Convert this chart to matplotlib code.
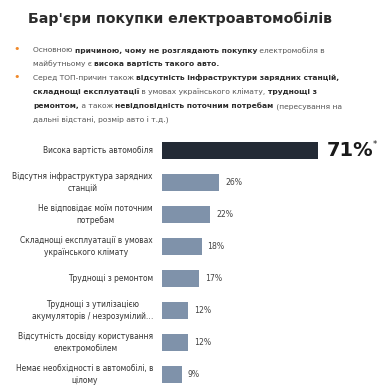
import matplotlib
matplotlib.use("Agg")
import matplotlib.pyplot as plt

W, H = 382, 386
DPI = 100

title = "Бар'єри покупки електроавтомобілів"

bullet_lines = [
    [("Основною ", False), ("причиною, чому не розглядають покупку", True), (" електромобіля в", False)],
    [("майбутньому є ", False), ("висока вартість такого авто.", True)],
    [("Серед ТОП-причин також ", False), ("відсутність інфраструктури зарядних станцій,", True)],
    [("складнощі експлуатації", True), (" в умовах українського клімату, ", False), ("труднощі з", True)],
    [("ремонтом,", True), (" а також ", False), ("невідповідність поточним потребам", True), (" (пересування на", False)],
    [("дальні відстані, розмір авто і т.д.)", False)],
]
bullet_starts = [0, 2]

categories = [
    "Висока вартість автомобіля",
    "Відсутня інфраструктура зарядних\nстанцій",
    "Не відповідає моїм поточним\nпотребам",
    "Складнощі експлуатації в умовах\nукраїнського клімату",
    "Труднощі з ремонтом",
    "Труднощі з утилізацією\nакумуляторів / незрозумілий…",
    "Відсутність досвіду користування\nелектромобілем",
    "Немає необхідності в автомобілі, в\nцілому",
]
values = [71, 26, 22, 18, 17, 12, 12, 9]
value_labels = ["71%", "26%", "22%", "18%", "17%", "12%", "12%", "9%"]

DARK = "#232a35"
GRAY = "#7f92aa"
TXT = "#333333"
ORANGE = "#f0892a"
FONT = "DejaVu Sans"

fig = plt.figure(figsize=(W / DPI, H / DPI), dpi=DPI)
fig.patch.set_facecolor("white")

def fx(px):
    return px / W

def fy(py):
    return 1 - py / H

fig.text(fx(28), fy(23.5), title, fontsize=10.2, fontweight="bold", color="#2b2b2b",
         family=FONT, va="baseline", ha="left")

renderer = fig.canvas.get_renderer()
baselines = [52.5, 66, 80, 94, 108, 122]
for i, line in enumerate(bullet_lines):
    x = 33.0
    for txt, bold in line:
        t = fig.text(fx(x), fy(baselines[i]), txt, fontsize=5.4,
                     fontweight="bold" if bold else "normal",
                     color="#2b2b2b" if bold else "#555555",
                     family=FONT, va="baseline", ha="left")
        bb = t.get_window_extent(renderer)
        x += bb.width
    if i in bullet_starts:
        fig.text(fx(17), fy(baselines[i]), "•", fontsize=8, color=ORANGE,
                 family=FONT, va="baseline", ha="center")

# bar axes: x=0 at px 162
x0, x1 = 162, 380
scale = 2.2
xmax = (x1 - x0) / scale
top_px, bot_px = 134.5, 386
ax = fig.add_axes([fx(x0), fy(bot_px), (x1 - x0) / W, (bot_px - top_px) / H])
ax.set_xlim(0, xmax)
ax.set_ylim(7.366, -0.5)
ax.axis("off")

ypos = list(range(len(values)))
colors = [DARK] + [GRAY] * (len(values) - 1)
ax.barh(ypos, values, height=0.53, color=colors, edgecolor="none")

for i, (v, lab, cat) in enumerate(zip(values, value_labels, categories)):
    if i == 0:
        ax.annotate(lab, (v, i), xytext=(9, 0), textcoords="offset pixels",
                    va="center", ha="left", fontsize=14, fontweight="bold",
                    color="#1a1a1a", family=FONT)
        ax.annotate("*", (v, i), xytext=(55, 6), textcoords="offset pixels",
                    va="center", ha="left", fontsize=6, color="#1a1a1a", family=FONT)
    else:
        ax.annotate(lab, (v, i), xytext=(6, 0), textcoords="offset pixels",
                    va="center", ha="left", fontsize=5.6, color="#444444", family=FONT)
    ax.annotate(cat, (0, i), xytext=(-9, 0), textcoords="offset pixels",
                va="center", ha="right", multialignment="center", fontsize=5.45,
                color=TXT, family=FONT, annotation_clip=False, linespacing=1.35)

fig.savefig("out.png", dpi=DPI, facecolor="white")
